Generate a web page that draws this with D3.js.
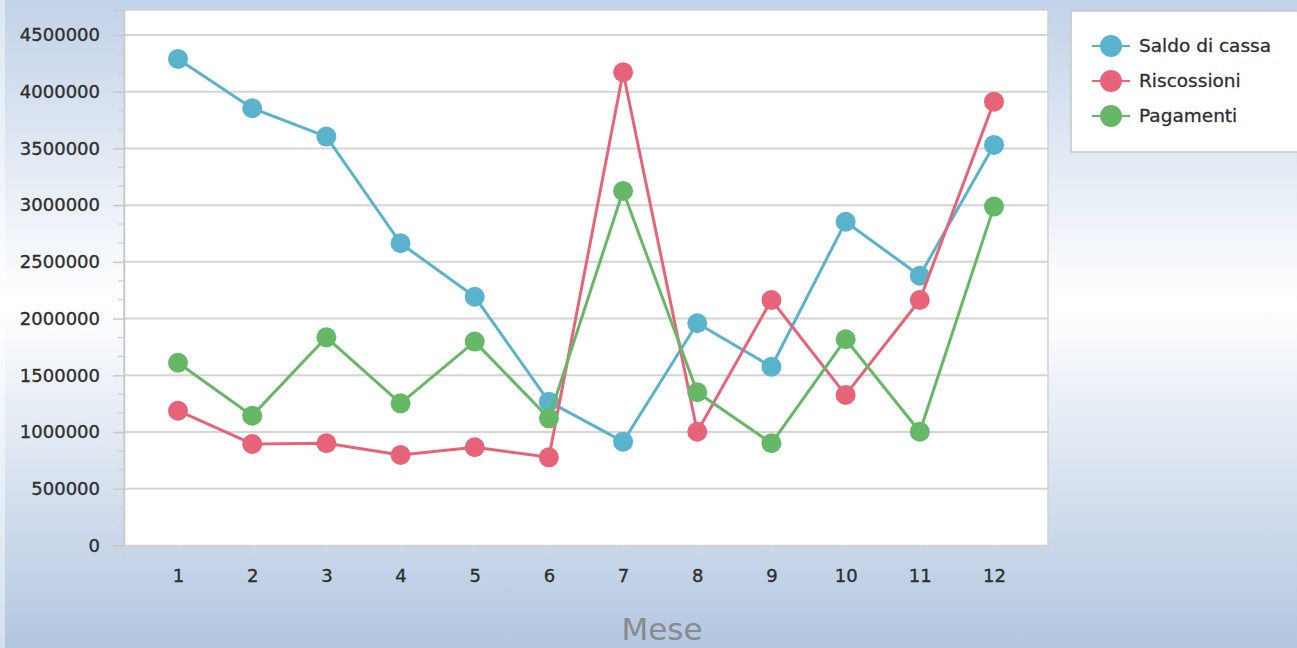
<!DOCTYPE html>
<html>
<head>
<meta charset="utf-8">
<script src="https://cdn.jsdelivr.net/npm/d3@7"></script>
<style>
  html, body { margin: 0; padding: 0; overflow: hidden; }
  svg { display: block; }
</style>
</head>
<body>
<script>
// Months on the x axis
const mesi = [1, 2, 3, 4, 5, 6, 7, 8, 9, 10, 11, 12];

// Monthly series
const saldoDiCassa = [4289000, 3854000, 3604000, 2664000, 2193000, 1268000, 915000, 1959000, 1576000, 2854000, 2378000, 3531000];
const riscossioni  = [1188000, 895000, 901000, 798000, 866000, 777000, 4171000, 1003000, 2164000, 1327000, 2164000, 3912000];
const pagamenti    = [1611000, 1144000, 1835000, 1253000, 1797000, 1121000, 3125000, 1351000, 901000, 1818000, 1003000, 2987000];

const seriesNames  = ["Saldo di cassa", "Riscossioni", "Pagamenti"];
const seriesColors = ["#5ab3cc", "#e6637a", "#66b866"];

// Axis ticks
const yTicks = [0, 500000, 1000000, 1500000, 2000000, 2500000, 3000000, 3500000, 4000000, 4500000];
const axisTitle = "Mese";

const W = 1297, H = 648;
const plot = { left: 124, right: 1048, top: 10, bottom: 545.5 };

const svg = d3.select("body").append("svg")
  .attr("width", W).attr("height", H);

// Window background: soft vertical blue-white-blue gradient
const defs = svg.append("defs");
const bg = defs.append("linearGradient").attr("id", "bg")
  .attr("x1", 0).attr("y1", 0).attr("x2", 0).attr("y2", 1);
bg.append("stop").attr("offset", "0%").attr("stop-color", "#c2d2e8");
bg.append("stop").attr("offset", "47%").attr("stop-color", "#ffffff");
bg.append("stop").attr("offset", "100%").attr("stop-color", "#b2c6e0");
svg.append("rect").attr("width", W).attr("height", H).attr("fill", "url(#bg)");
svg.append("rect").attr("x", 0).attr("y", 0).attr("width", 5).attr("height", H)
  .attr("fill", "#ffffff").attr("opacity", 0.45);

const x = d3.scalePoint().domain(mesi).range([plot.left, plot.right]).padding(0.728);
const y = d3.scaleLinear().domain([0, 4720000]).range([plot.bottom, plot.top]);

// Plot area
svg.append("rect")
  .attr("x", plot.left).attr("y", plot.top)
  .attr("width", plot.right - plot.left).attr("height", plot.bottom - plot.top)
  .attr("fill", "#ffffff").attr("stroke", "#d2d2d2").attr("stroke-width", 1.5);

// Horizontal gridlines
svg.append("g").selectAll("line").data(yTicks.filter(d => d > 0)).join("line")
  .attr("x1", plot.left).attr("x2", plot.right)
  .attr("y1", d => y(d)).attr("y2", d => y(d))
  .attr("stroke", "#d4d4d4").attr("stroke-width", 2);

const labelStyle = sel => sel
  .attr("font-family", "DejaVu Sans, sans-serif").attr("font-size", 18)
  .attr("fill", "#2e2e2e").attr("stroke", "#2e2e2e").attr("stroke-width", 0.35);

// Y axis with major ticks and labels
const yAxis = d3.axisLeft(y).tickValues(yTicks).tickSize(11).tickPadding(13)
  .tickFormat(d3.format("d"));
const gy = svg.append("g").attr("transform", `translate(${plot.left},0)`).call(yAxis);
gy.select(".domain").attr("stroke", "#c8c8c8").attr("stroke-width", 1.5);
gy.selectAll(".tick line").attr("stroke", "#c8c8c8").attr("stroke-width", 1.5);
gy.selectAll(".tick text").call(labelStyle);

// Minor ticks: thirds of each major step
const minorStep = 500000 / 3;
const minor = d3.range(1, 29).map(k => k * minorStep)
  .filter((v, i) => (i + 1) % 3 !== 0 && v < 4720000);
svg.append("g").selectAll("line").data(minor).join("line")
  .attr("x1", plot.left - 6).attr("x2", plot.left)
  .attr("y1", d => y(d)).attr("y2", d => y(d))
  .attr("stroke", "#cfcfcf").attr("stroke-width", 1.2);

// X axis
const xAxis = d3.axisBottom(x).tickSize(10).tickPadding(14);
const gx = svg.append("g").attr("transform", `translate(0,${plot.bottom})`).call(xAxis);
gx.select(".domain").attr("stroke", "#d2d2d2").attr("stroke-width", 1.5);
gx.selectAll(".tick line").attr("stroke", "#d6d6d6").attr("stroke-width", 1.2);
gx.selectAll(".tick text").call(labelStyle);

// Axis title
svg.append("text").attr("x", 662).attr("y", 640)
  .attr("text-anchor", "middle")
  .attr("font-family", "DejaVu Sans, sans-serif").attr("font-size", 31)
  .attr("fill", "#8a8a8a").text(axisTitle);

// Series lines and markers
const allSeries = [saldoDiCassa, riscossioni, pagamenti];
const line = d3.line().x((d, i) => x(mesi[i])).y(d => y(d));
allSeries.forEach((vals, s) => {
  const g = svg.append("g");
  g.append("path").datum(vals).attr("d", line)
    .attr("fill", "none").attr("stroke", seriesColors[s]).attr("stroke-width", 3)
    .attr("stroke-linejoin", "round");
  g.selectAll("circle").data(vals).join("circle")
    .attr("cx", (d, i) => x(mesi[i])).attr("cy", d => y(d)).attr("r", 10)
    .attr("fill", seriesColors[s]);
});

// Legend
const lg = svg.append("g");
lg.append("rect").attr("x", 1071).attr("y", 11).attr("width", 240).attr("height", 141)
  .attr("fill", "#ffffff").attr("stroke", "#c6c6c6").attr("stroke-width", 1.5);
seriesNames.forEach((name, i) => {
  const cy = 46 + i * 35;
  lg.append("line").attr("x1", 1092).attr("x2", 1130).attr("y1", cy).attr("y2", cy)
    .attr("stroke", seriesColors[i]).attr("stroke-width", 2);
  lg.append("circle").attr("cx", 1111).attr("cy", cy).attr("r", 11)
    .attr("fill", seriesColors[i]);
  lg.append("text").attr("x", 1139).attr("y", cy).attr("dy", "0.35em")
    .attr("font-family", "DejaVu Sans, sans-serif").attr("font-size", 18.5)
    .attr("fill", "#2e2e2e").attr("stroke", "#2e2e2e").attr("stroke-width", 0.3)
    .text(name);
});
</script>
</body>
</html>
